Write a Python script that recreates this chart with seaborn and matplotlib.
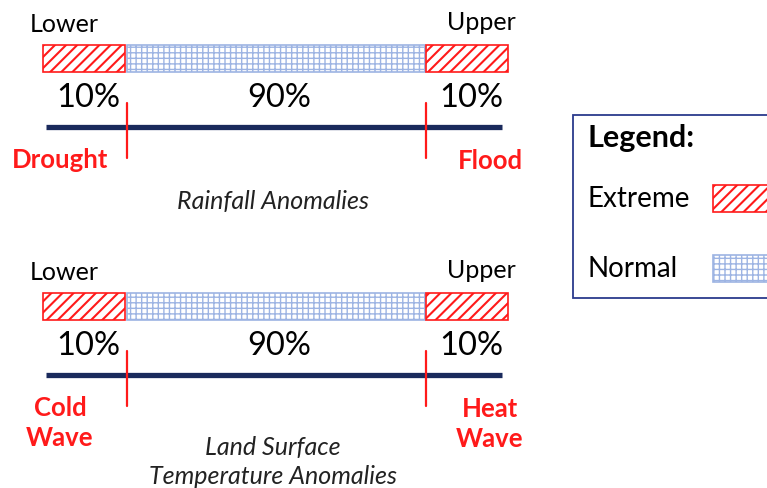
import matplotlib
matplotlib.use("Agg")
import matplotlib.pyplot as plt
import seaborn as sns
from matplotlib.patches import Rectangle

sns.set_theme(style="white")
plt.rcParams['font.family'] = ['Lato', 'DejaVu Sans']

# ---- data ----
segment_kinds = ["Extreme", "Normal", "Extreme"]
segment_percents = [10, 90, 10]
end_labels = ["Lower", "Upper"]
panel_titles = ["Rainfall Anomalies", "Land Surface\nTemperature Anomalies"]
panel_low_events = ["Drought", "Cold\nWave"]
panel_high_events = ["Flood", "Heat\nWave"]
legend_title = "Legend:"
legend_items = ["Extreme", "Normal"]

# ---- styles ----
RED = "#ff1a1a"
BLUE = "#9db4e3"
NAVY = "#1a2a5c"
styles = {
    "Extreme": dict(facecolor="white", edgecolor=RED, hatch="///"),
    "Normal": dict(facecolor="white", edgecolor=BLUE, hatch="+++"),
}
hatch_lw = {"Extreme": 1.5, "Normal": 1.0}

# ---- layout (pixels) ----
W, H = 767, 488
bar_left = 43
seg_widths = [82, 298, 82]
seg_gap = 1.5
bar_h = 27
panel_offsets = [0, 248]

fig = plt.figure(figsize=(W / 100, H / 100), dpi=100)
ax = fig.add_axes([0, 0, 1, 1])
ax.set_xlim(0, W)
ax.set_ylim(H, 0)
ax.axis("off")

for p, off in enumerate(panel_offsets):
    bar_top = 45 + off
    lefts = []
    x = bar_left
    for w in seg_widths:
        lefts.append(x)
        x += w + seg_gap
    for kind, pct, lft, w in zip(segment_kinds, segment_percents, lefts, seg_widths):
        with plt.rc_context({'hatch.linewidth': hatch_lw[kind]}):
            ax.barh(bar_top + bar_h / 2, w, left=lft, height=bar_h, linewidth=1.2,
                    **styles[kind])
        ax.text(lft + w / 2 + 4, 98 + off, f"{pct}%", ha="center", va="center",
                fontsize=23.5, color="black")
    right_end = lefts[-1] + seg_widths[-1]
    ax.text(30, 25 + off, end_labels[0], ha="left", va="center", fontsize=18, color="black")
    ax.text(right_end + 8, 23 + off, end_labels[1], ha="right", va="center", fontsize=18, color="black")
    # axis line
    ax.plot([46, 502], [127 + off, 127 + off], color=NAVY, lw=3.8, solid_capstyle="butt")
    # thresholds
    for xt in (lefts[1], lefts[2]):
        ax.plot([xt, xt], [103 + off, 158 + off], color=RED, lw=1.6)
    # event labels
    ax.text(60, 160 + off + (15 if p else 0), panel_low_events[p], ha="center", va="center",
            fontsize=18.5, fontweight="bold", color=RED, linespacing=1.3)
    ax.text(490, 161 + off + (15 if p else 0), panel_high_events[p], ha="center", va="center",
            fontsize=18.5, fontweight="bold", color=RED, linespacing=1.3)
    ax.text(273, 201 + off + (13 if p else 0), panel_titles[p], ha="center", va="center",
            fontsize=18, style="italic", color="#222222", linespacing=1.3)

# legend box
ax.add_patch(Rectangle((573, 115), 220, 183, facecolor="white", edgecolor="#2b3a8c",
                       lw=1.3, clip_on=True))
ax.text(587, 138, legend_title, ha="left", va="center", fontsize=22, fontweight="bold", color="black")
for i, item in enumerate(legend_items):
    yc = 199 + i * 70
    ax.text(587, yc, item, ha="left", va="center", fontsize=20, color="black")
    with plt.rc_context({'hatch.linewidth': hatch_lw[item]}):
        ax.add_patch(Rectangle((713, yc - 14), 70, 27, linewidth=1.2, **styles[item]))

fig.savefig("out.png", dpi=100)
